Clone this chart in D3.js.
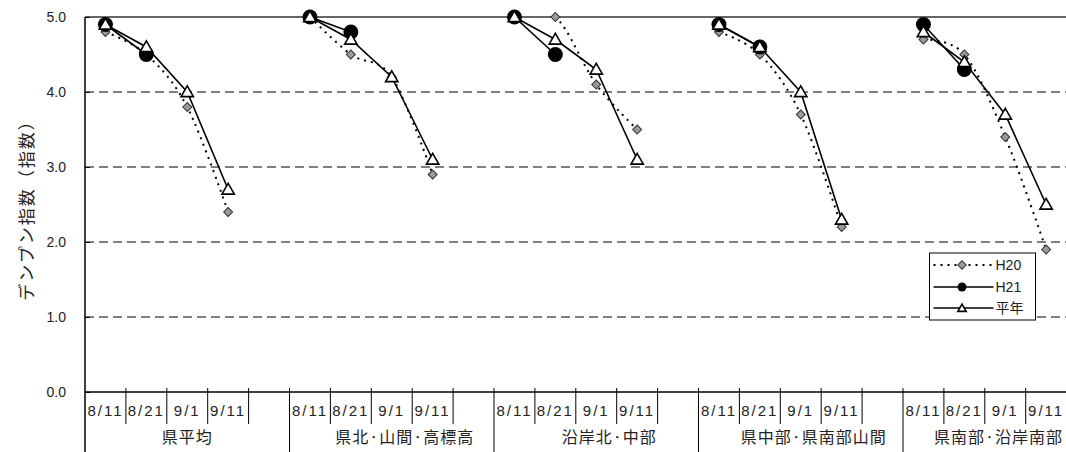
<!DOCTYPE html>
<html>
<head>
<meta charset="utf-8">
<script src="https://cdn.jsdelivr.net/npm/d3@7"></script>
<style>
  html, body { margin: 0; padding: 0; background: #fff; }
  svg { display: block; }
</style>
</head>
<body>
<svg id="chart" width="1066" height="452"></svg>
<script>
// Starch index by region and survey date
const groups = ["県平均", "県北·山間·高標高", "沿岸北·中部", "県中部·県南部山間", "県南部·沿岸南部"];
const dates = ["8/11", "8/21", "9/1", "9/11"];
const yTicks = [0, 1, 2, 3, 4, 5];
const seriesNames = ["H20", "H21", "平年"];

const h20 = [
  [4.8, 4.5, 3.8, 2.4],
  [5.0, 4.5, 4.2, 2.9],
  [5.0, 5.0, 4.1, 3.5],
  [4.8, 4.5, 3.7, 2.2],
  [4.7, 4.5, 3.4, 1.9]
];
const h21 = [
  [4.9, 4.5],
  [5.0, 4.8],
  [5.0, 4.5],
  [4.9, 4.6],
  [4.9, 4.3]
];
const normal = [
  [4.9, 4.6, 4.0, 2.7],
  [5.0, 4.7, 4.2, 3.1],
  [5.0, 4.7, 4.3, 3.1],
  [4.9, 4.6, 4.0, 2.3],
  [4.8, 4.4, 3.7, 2.5]
];

const svg = d3.select("#chart");
const W = 1066, H = 452;
const plotLeft = 85, plotTop = 17, plotBottom = 392;
const slotW = 40.9;
const latin = "'Liberation Sans', Arial, sans-serif";
const cjk = "'Noto Sans CJK JP', sans-serif";

// each group has its four dates plus one empty slot
const slots = [];
groups.forEach((g, gi) => {
  dates.forEach(d => slots.push(gi + "|" + d));
  slots.push(gi + "|");
});

const x = d3.scaleBand().domain(slots).range([plotLeft, plotLeft + slots.length * slotW]).padding(0);
const y = d3.scaleLinear().domain([0, 5]).range([plotBottom, plotTop]);
const cx = (gi, di) => x(gi + "|" + dates[di]) + x.bandwidth() / 2;

// lines stay inside the plot area
svg.append("defs").append("clipPath").attr("id", "plot-clip")
  .append("rect").attr("x", plotLeft).attr("y", plotTop)
  .attr("width", W - plotLeft).attr("height", plotBottom - plotTop);

// horizontal grid lines
svg.append("g").selectAll("line").data(yTicks.filter(v => v > 0 && v < 5)).join("line")
  .attr("x1", plotLeft).attr("x2", W)
  .attr("y1", d => y(d)).attr("y2", d => y(d))
  .attr("stroke", "#000").attr("stroke-width", 1).attr("stroke-dasharray", "9,5");
svg.append("line")
  .attr("x1", plotLeft).attr("x2", W).attr("y1", y(5)).attr("y2", y(5))
  .attr("stroke", "#333").attr("stroke-width", 1.5);

// y axis
const yAxis = svg.append("g").attr("transform", `translate(${plotLeft},0)`)
  .call(d3.axisLeft(y).tickValues(yTicks).tickFormat(d3.format(".1f"))
    .tickSizeInner(-5).tickSizeOuter(0).tickPadding(19));
yAxis.select(".domain").remove();
yAxis.selectAll("line").attr("stroke", "#000");
yAxis.selectAll("text").attr("font-family", latin).attr("font-size", 14).attr("fill", "#222");
svg.append("line").attr("x1", plotLeft).attr("x2", plotLeft).attr("y1", plotTop).attr("y2", H)
  .attr("stroke", "#000").attr("stroke-width", 1.5);

// x axis: baseline, slot separators and group separators
svg.append("line").attr("x1", plotLeft).attr("x2", W).attr("y1", plotBottom).attr("y2", plotBottom)
  .attr("stroke", "#000").attr("stroke-width", 1.5);
svg.append("g").selectAll("line").data(slots.slice(1)).join("line")
  .attr("x1", d => x(d)).attr("x2", d => x(d))
  .attr("y1", plotBottom - 4)
  .attr("y2", d => d.split("|")[1] === dates[0] ? H : 424)
  .attr("stroke", "#000").attr("stroke-width", 1);

const xAxis = svg.append("g").attr("transform", `translate(0,${plotBottom})`)
  .call(d3.axisBottom(x).tickSize(0).tickPadding(13).tickFormat(d => d.split("|")[1]));
xAxis.select(".domain").remove();
xAxis.selectAll("text").attr("font-family", latin).attr("font-size", 15)
  .attr("letter-spacing", "2px").attr("fill", "#222");

// group labels: dotted names sit a little right of centre, and every label
// is kept inside the drawing's right edge
svg.append("g").selectAll("text").data(groups).join("text")
  .attr("y", 443)
  .attr("text-anchor", "middle")
  .attr("font-family", cjk).attr("font-size", 16).attr("letter-spacing", "1px")
  .attr("fill", "#222")
  .text(d => d)
  .attr("x", function (g, gi) {
    const c = x(gi + "|" + dates[0]) + 2.5 * slotW + (g.includes("·") ? 13 : 0);
    const half = this.getComputedTextLength() / 2;
    return Math.min(c, W - 3 - half);
  });

// y axis title
svg.append("text")
  .attr("transform", "translate(33,206) rotate(-90)")
  .attr("text-anchor", "middle")
  .attr("font-family", cjk).attr("font-size", 17).attr("letter-spacing", "2px")
  .attr("fill", "#222")
  .text("デンプン指数（指数）");

// series drawing helpers
const lineStraight = d3.line().x(d => d[0]).y(d => d[1]);
const lineSmooth = d3.line().x(d => d[0]).y(d => d[1]).curve(d3.curveCardinal.tension(0));
const pts = (arr, gi) => arr.map((v, di) => [cx(gi, di), y(v)]);

function h20Line(g, p) {
  return g.append("path").attr("d", lineSmooth(p)).attr("fill", "none")
    .attr("stroke", "#000").attr("stroke-width", 2).attr("stroke-dasharray", "2,5");
}
function h20Marks(g, p, sz) {
  g.selectAll(null).data(p).join("path")
    .attr("d", d3.symbol().type(d3.symbolSquare).size(sz))
    .attr("transform", d => `translate(${d[0]},${d[1]}) rotate(45)`)
    .attr("fill", "#9a9a9a").attr("stroke", "#333").attr("stroke-width", 1);
}
function solidLine(g, p) {
  return g.append("path").attr("d", lineStraight(p)).attr("fill", "none")
    .attr("stroke", "#000").attr("stroke-width", 1.6);
}
function h21Marks(g, p, r) {
  g.selectAll(null).data(p).join("circle")
    .attr("cx", d => d[0]).attr("cy", d => d[1]).attr("r", r).attr("fill", "#000");
}
function normalMarks(g, p, sz) {
  g.selectAll(null).data(p).join("path")
    .attr("transform", d => `translate(${d[0]},${d[1] + 1})`)
    .attr("d", d3.symbol().type(d3.symbolTriangle2).size(sz))
    .attr("fill", "#fff").attr("stroke", "#000").attr("stroke-width", 1.6);
}

groups.forEach((g, gi) => {
  const a = pts(h20[gi], gi), b = pts(h21[gi], gi), c = pts(normal[gi], gi);
  const ga = svg.append("g");
  h20Line(ga, a).attr("clip-path", "url(#plot-clip)");
  h20Marks(ga, a, 40);
  const gb = svg.append("g");
  solidLine(gb, b).attr("clip-path", "url(#plot-clip)");
  h21Marks(gb, b, 7.5);
  const gc = svg.append("g");
  solidLine(gc, c).attr("clip-path", "url(#plot-clip)");
  normalMarks(gc, c, 110);
});

// legend
const lg = svg.append("g").attr("transform", "translate(929.5,253)");
lg.append("rect").attr("width", 106).attr("height", 67)
  .attr("fill", "#fff").attr("stroke", "#000").attr("stroke-width", 1);
const rowY = [12, 34, 55];
const lx1 = 4, lx2 = 64, lm = 32.5;
h20Line(lg, [[lx1, rowY[0]], [lx2, rowY[0]]]);
h20Marks(lg.append("g"), [[lm, rowY[0]]], 36);
solidLine(lg, [[lx1, rowY[1]], [lx2, rowY[1]]]);
h21Marks(lg.append("g"), [[lm, rowY[1]]], 4.5);
solidLine(lg, [[lx1, rowY[2]], [lx2, rowY[2]]]);
normalMarks(lg.append("g"), [[lm, rowY[2]]], 50);
lg.selectAll("text").data(seriesNames).join("text")
  .attr("x", 66).attr("y", (d, i) => rowY[i]).attr("dy", "0.35em")
  .attr("font-family", (d, i) => i === 2 ? cjk : latin).attr("font-size", 14).attr("fill", "#222")
  .text(d => d);
</script>
</body>
</html>
